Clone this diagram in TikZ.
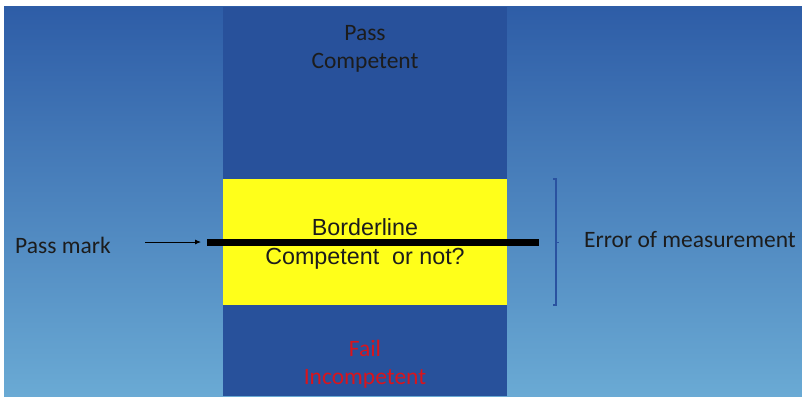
\documentclass[tikz,border=0pt]{standalone}
\usepackage{fontspec}
\setmainfont{Carlito}
\newfontfamily\arialfont{Liberation Sans}
\usetikzlibrary{arrows.meta,calc}
\definecolor{bgtop}{HTML}{2E5DA7}
\definecolor{bgbot}{HTML}{6AAAD4}
\definecolor{colblue}{HTML}{28519B}
\definecolor{boxyellow}{HTML}{FFFF1A}
\definecolor{inkdark}{HTML}{1C1C1C}
\definecolor{failred}{HTML}{D9141C}
\definecolor{bracketblue}{HTML}{2A52A0}
\begin{document}
\begin{tikzpicture}[x=1pt,y=-1pt,
  label/.style={font=\fontsize{23.5}{28}\selectfont, text=inkdark, inner sep=0pt, align=center},
  boxtext/.style={font=\arialfont\fontsize{23.3}{29}\selectfont, text=inkdark, inner sep=0pt, align=center}]
  % page and gradient backdrop
  \useasboundingbox (0,0) rectangle (802,396);
  \fill[white] (0,0) rectangle (802,396);
  \shade[top color=bgtop, bottom color=bgbot] (4,7) rectangle (802,396);
  % central column and borderline band
  \fill[colblue] (223,7) rectangle (507,396);
  \fill[boxyellow] (223,179) rectangle (507,305);
  % band labels
  \node[label] (pass) at (365,49) {Pass\\Competent};
  \node[label, text=failred] (fail) at (365,364) {Fail\\Incompetent};
  \node[boxtext] (border) at (365,244) {Borderline\\Competent\ \ or not?};
  % pass mark bar
  \coordinate (barL) at (207,242);
  \coordinate (barR) at (539,242);
  \draw[line width=7pt, black] (barL) -- (barR);
  \node[label, anchor=west] (pm) at (15,245) {Pass mark};
  \coordinate (arrS) at (145,242);
  \coordinate (arrE) at (201,242);
  \draw[-{Latex[length=6pt,width=5pt]}, line width=0.8pt, black] (arrS) -- (arrE);
  % error-of-measurement bracket
  \coordinate (brT) at (556,179);
  \coordinate (brB) at (556,305);
  \coordinate (brM) at (556,242);
  \draw[bracketblue, line width=1.4pt] ($(brT)+(-3,0)$) -- (brT) -- (brB) -- ($(brB)+(-3,0)$);
  \draw[bracketblue, line width=1pt] (brM) -- ++(2.5,0);
  \node[label, anchor=west] (err) at (584,240) {Error of measurement};
\end{tikzpicture}
\end{document}
